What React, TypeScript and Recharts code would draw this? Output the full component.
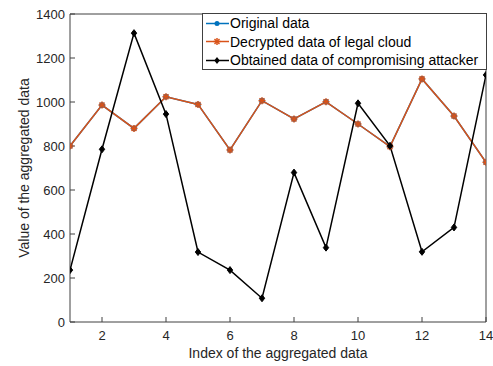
import React from 'react';
import { LineChart, Line, XAxis, YAxis, Legend } from 'recharts';

const indices = [1, 2, 3, 4, 5, 6, 7, 8, 9, 10, 11, 12, 13, 14];
const originalData = [800, 986, 880, 1024, 989, 782, 1006, 923, 1001, 900, 797, 1105, 936, 726];
const decryptedData = [800, 986, 880, 1024, 989, 782, 1006, 923, 1001, 900, 797, 1105, 936, 726];
const attackerData = [236, 785, 1313, 945, 318, 236, 108, 679, 338, 994, 801, 319, 430, 1123];
const xTicks = [2, 4, 6, 8, 10, 12, 14];
const yTicks = [0, 200, 400, 600, 800, 1000, 1200, 1400];
const seriesNames = [
  'Original data',
  'Decrypted data of legal cloud',
  'Obtained data of compromising attacker',
];
const xLabel = 'Index of the aggregated data';
const yLabel = 'Value of the aggregated data';

const BLUE = '#0072BD';
const ORANGE = '#D95319';
const BLACK = '#000000';
const AXIS = '#404040';
const FONT = '"Liberation Sans", Arial, Helvetica, sans-serif';

const data = indices.map((idx, i) => ({
  idx,
  original: originalData[i],
  decrypted: decryptedData[i],
  attacker: attackerData[i],
}));

const circleDot = (color: string) => (props: any) => {
  const { cx, cy, index } = props;
  if (cx == null || cy == null) return <g key={`c${index}`} />;
  return <circle key={`c${index}`} cx={cx} cy={cy} r={2.5} fill={color} stroke={color} />;
};

const starDot = (color: string) => (props: any) => {
  const { cx, cy, index } = props;
  if (cx == null || cy == null) return <g key={`s${index}`} />;
  const r = 3.5;
  const d = 2.5;
  return (
    <g key={`s${index}`} stroke={color} strokeWidth={1.5}>
      <line x1={cx - r} y1={cy} x2={cx + r} y2={cy} />
      <line x1={cx} y1={cy - r} x2={cx} y2={cy + r} />
      <line x1={cx - d} y1={cy - d} x2={cx + d} y2={cy + d} />
      <line x1={cx - d} y1={cy + d} x2={cx + d} y2={cy - d} />
    </g>
  );
};

const diamondDot = (color: string) => (props: any) => {
  const { cx, cy, index } = props;
  if (cx == null || cy == null) return <g key={`d${index}`} />;
  const r = 3.5;
  return (
    <path
      key={`d${index}`}
      d={`M${cx},${cy - r} L${cx + r - 0.8},${cy} L${cx},${cy + r} L${cx - r + 0.8},${cy} Z`}
      fill={color}
      stroke={color}
      strokeWidth={1}
    />
  );
};

const legendItems = [
  { name: seriesNames[0], color: BLUE, marker: 'circle' },
  { name: seriesNames[1], color: ORANGE, marker: 'star' },
  { name: seriesNames[2], color: BLACK, marker: 'diamond' },
];

const LegendMarker = ({ color, marker }: { color: string; marker: string }) => {
  const cx = 13;
  const cy = 9.5;
  let m: React.ReactNode = null;
  if (marker === 'circle') m = <circle cx={cx} cy={cy} r={2.5} fill={color} />;
  if (marker === 'star')
    m = (
      <g stroke={color} strokeWidth={1.5}>
        <line x1={cx - 3.5} y1={cy} x2={cx + 3.5} y2={cy} />
        <line x1={cx} y1={cy - 3.5} x2={cx} y2={cy + 3.5} />
        <line x1={cx - 2.5} y1={cy - 2.5} x2={cx + 2.5} y2={cy + 2.5} />
        <line x1={cx - 2.5} y1={cy + 2.5} x2={cx + 2.5} y2={cy - 2.5} />
      </g>
    );
  if (marker === 'diamond')
    m = <path d={`M${cx},${cy - 3.5} L${cx + 2.7},${cy} L${cx},${cy + 3.5} L${cx - 2.7},${cy} Z`} fill={color} />;
  return (
    <svg width={26} height={19} style={{ display: 'block', flex: 'none' }}>
      <line x1={2} y1={cy} x2={25} y2={cy} stroke={color} strokeWidth={1.5} />
      {m}
    </svg>
  );
};

const renderLegend = () => (
  <div
    style={{
      border: `1px solid ${AXIS}`,
      background: '#ffffff',
      padding: '0px 0px 0px 1px',
      boxSizing: 'border-box',
      width: 285,
      height: 57,
      fontFamily: FONT,
      fontSize: 14,
      color: '#000',
    }}
  >
    {legendItems.map((it) => (
      <div key={it.name} style={{ display: 'flex', alignItems: 'center', height: 18.5, whiteSpace: 'nowrap' }}>
        <LegendMarker color={it.color} marker={it.marker} />
        <span style={{ marginLeft: 0 }}>{it.name}</span>
      </div>
    ))}
  </div>
);

export default function App() {
  return (
    <div style={{ position: 'absolute', left: 0, top: 0, background: '#fff' }}>
      <LineChart width={493} height={366} data={data} margin={{ top: 0, right: 0, bottom: 0, left: 0 }}>
        <XAxis
          dataKey="idx"
          type="number"
          domain={[1, 14]}
          ticks={xTicks}
          allowDataOverflow
          height={44}
          stroke={AXIS}
          tickSize={-5}
          tickMargin={14}
          tick={{ fill: '#262626', fontSize: 13, fontFamily: FONT }}
          label={{
            value: xLabel,
            position: 'insideBottom',
            offset: 8,
            fill: '#262626',
            fontSize: 14,
            fontFamily: FONT,
          }}
        />
        <XAxis
          xAxisId="top"
          orientation="top"
          dataKey="idx"
          type="number"
          domain={[1, 14]}
          ticks={xTicks}
          height={14}
          stroke={AXIS}
          tickSize={-5}
          tick={false}
        />
        <YAxis
          type="number"
          domain={[0, 1400]}
          ticks={yTicks}
          width={70}
          stroke={AXIS}
          tickSize={-5}
          tickMargin={10}
          tick={{ fill: '#262626', fontSize: 13, fontFamily: FONT }}
          label={{
            value: yLabel,
            angle: -90,
            position: 'center',
            dx: -11,
            fill: '#262626',
            fontSize: 14,
            fontFamily: FONT,
          }}
        />
        <YAxis
          yAxisId="right"
          orientation="right"
          type="number"
          domain={[0, 1400]}
          ticks={yTicks}
          width={7}
          stroke={AXIS}
          tickSize={-5}
          tick={false}
        />
        <Legend
          layout="vertical"
          align="center"
          verticalAlign="middle"
          content={renderLegend}
          wrapperStyle={{ left: 202, top: 13, width: 285, height: 57 }}
        />
        <Line
          dataKey="original"
          name={seriesNames[0]}
          stroke={BLUE}
          strokeWidth={1.5}
          dot={circleDot(BLUE)}
          isAnimationActive={false}
        />
        <Line
          dataKey="decrypted"
          name={seriesNames[1]}
          stroke={ORANGE}
          strokeWidth={1.5}
          dot={starDot(ORANGE)}
          isAnimationActive={false}
        />
        <Line
          dataKey="attacker"
          name={seriesNames[2]}
          stroke={BLACK}
          strokeWidth={1.5}
          dot={diamondDot(BLACK)}
          isAnimationActive={false}
        />
      </LineChart>
    </div>
  );
}
